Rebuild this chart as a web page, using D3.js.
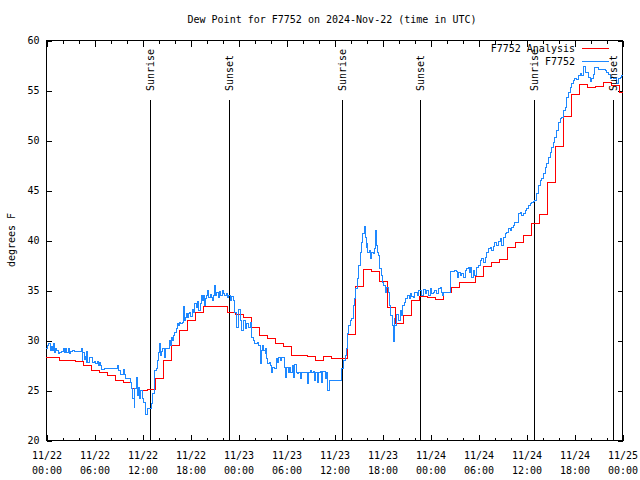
<!DOCTYPE html>
<html><head><meta charset="utf-8">
<script src="https://cdn.jsdelivr.net/npm/d3@7"></script>
<style>
html,body{margin:0;padding:0;background:#fff;}
svg{display:block;}
text{font-family:"DejaVu Sans Mono","Liberation Mono",monospace;font-size:10px;fill:#000;}
</style></head><body>
<svg id="chart" width="640" height="480"></svg>
<script>
const titleText = "Dew Point for F7752 on 2024-Nov-22 (time in UTC)";
const yLabel = "degrees F";
const startDate = "2024-11-22T00:00:00Z";
const endDate = "2024-11-25T00:00:00Z";
const yTicks = [20,25,30,35,40,45,50,55,60];
const xMajorHours = [0,6,12,18,24,30,36,42,48,54,60,66,72];
const xMinorHours = d3.range(0,73,2);
const legendLabels = ["F7752 Analysis","F7752"];
const sunLabels = ["Sunrise","Sunset","Sunrise","Sunset","Sunrise","Sunset"];
const sunHours = [13.05,22.9,37.06,46.8,61.05,70.82];

// hourly analysis values, first one valid from 11/21 23:42 UTC
const anaStartHour = -0.3;
const anaValues = [28.3,28.3,28.0,28.0,27.9,27.5,27.0,26.8,26.5,26.0,
25.8,25.2,25.0,25.1,26.2,28.0,29.5,31.0,32.0,32.8,
33.4,33.4,33.4,32.8,32.6,32.3,31.3,30.5,30.2,29.65,
29.35,28.45,28.45,28.4,28.0,28.35,28.2,28.2,30.6,35.4,
37.05,36.9,35.9,33.3,31.7,32.5,34.0,34.35,34.3,34.1,
34.8,35.3,35.8,35.8,36.4,37.4,37.75,38.1,39.3,39.8,
40.45,41.7,42.6,45.8,49.4,52.4,54.6,55.6,55.3,55.35,
55.8,55.45,54.75];

// station observations: hours since 11/22 00:00 UTC and dew point
const obsHours = [0,0.21,0.33,0.5,0.67,0.79,0.92,1.0,1.21,1.33,1.5,1.67,1.92,2.17,2.33,2.46,2.58,2.75,2.88,3.08,3.29,3.62,
4.46,4.54,4.62,4.75,4.88,5.0,5.08,5.21,5.38,5.79,6.0,6.21,6.42,6.54,6.67,6.83,6.96,7.25,8.92,9.08,9.25,9.67,9.79,9.96,
10.5,10.67,10.83,11.0,11.08,11.25,11.42,11.58,11.71,11.83,12.08,12.21,12.38,12.46,12.67,13.2,13.35,13.5,13.62,13.75,13.92,
14.04,14.17,14.25,14.38,14.58,14.75,14.83,14.96,15.42,15.58,15.67,15.83,15.92,16.08,16.25,16.42,16.58,16.67,16.83,17.0,
17.17,17.25,17.42,17.5,17.67,17.83,17.92,18.08,18.25,18.42,18.58,18.75,18.92,19.08,19.25,19.42,19.5,19.67,19.79,19.92,
20.08,20.21,20.33,20.5,20.67,20.75,20.92,21.08,21.17,21.33,21.5,21.67,21.83,22.0,22.17,22.33,22.5,22.67,22.83,
23.0,23.2,23.42,23.62,23.83,24.04,24.25,24.46,24.67,24.88,25.08,25.29,25.5,25.71,25.92,26.12,26.46,26.62,26.75,26.88,
27.04,27.21,27.38,27.46,27.58,27.71,27.88,28.04,28.21,28.29,28.62,28.79,28.96,29.12,29.29,29.46,29.79,29.96,
30.12,30.29,30.46,30.62,30.79,30.92,31.12,31.29,31.46,31.62,31.79,31.96,32.71,32.79,33.0,33.21,33.42,33.54,33.71,33.88,
34.04,34.25,34.38,34.54,34.88,35.0,35.21,35.38,36.75,36.88,37.2,37.38,37.54,37.67,37.79,38.0,38.21,38.42,38.54,38.71,38.96,
39.12,39.29,39.46,39.62,39.75,39.88,40.0,40.08,40.21,40.38,40.54,40.71,40.88,41.04,41.15,41.29,41.42,41.54,41.71,41.88,
42.04,42.21,42.38,42.58,42.79,42.96,43.12,43.29,43.42,43.54,43.62,43.83,44.04,44.25,44.46,44.62,44.79,44.96,
45.17,45.38,45.54,45.71,45.96,46.12,46.38,46.54,46.75,46.96,47.17,47.38,47.58,47.79,48.0,48.21,48.42,48.62,48.83,
49.04,49.25,49.38,49.54,49.67,50.5,50.62,51.12,51.33,51.46,51.62,51.75,51.96,52.17,52.38,52.58,52.79,52.92,
53.08,53.21,53.42,53.62,53.83,54.04,54.25,54.46,54.67,54.88,55.08,55.29,55.5,55.71,55.92,56.12,56.33,56.54,56.75,56.96,
57.17,57.38,57.58,57.79,58.0,58.21,58.42,58.62,58.83,59.04,59.25,59.46,59.67,59.88,60.08,60.29,60.5,60.71,60.92,
61.12,61.33,61.54,61.75,61.96,62.17,62.38,62.58,62.79,63.0,63.21,63.42,63.62,63.83,64.04,64.25,64.46,64.67,64.88,
65.08,65.29,65.5,65.71,65.92,66.12,66.33,66.54,66.75,66.96,67.17,67.38,67.58,67.79,68.0,68.21,68.42,68.62,68.83,
69.04,69.67,69.88,70.08,70.29,70.5,70.71,70.92,71.12,71.33,71.54,71.75,71.96];
const obsValues = [29.2,29.5,29.7,29.0,29.4,29.0,29.7,28.8,29.2,29.0,28.7,28.8,28.9,29.2,28.8,29.2,28.8,29.2,28.7,28.9,29.0,28.9,
29.2,28.0,28.8,28.1,28.4,27.8,28.9,27.8,28.3,27.8,27.9,27.7,27.9,27.5,27.8,27.5,27.1,27.2,27.5,27.0,26.6,27.1,26.6,26.2,
25.8,25.2,24.2,23.3,25.2,26.3,24.5,25.3,24.2,25.0,24.2,23.8,23.2,22.6,23.2,23.7,24.7,26.5,27.0,27.2,28.0,
28.8,29.7,28.5,28.9,29.2,28.9,28.3,29.2,30.0,29.5,30.3,30.0,30.5,30.8,31.2,31.7,31.5,31.8,31.7,31.8,
33.4,32.0,32.3,32.7,32.3,32.7,32.8,32.4,33.1,32.8,33.7,33.3,33.9,33.0,33.7,34.5,34.0,34.5,33.5,34.2,
34.5,35.0,34.3,34.6,34.3,34.0,34.5,35.5,34.5,34.8,34.3,34.9,34.5,35.0,34.7,34.5,34.7,34.3,34.5,
34.0,34.4,34.0,32.8,31.3,33.1,32.0,31.0,32.0,31.2,31.7,31.3,31.8,30.3,30.0,29.7,29.8,29.5,27.7,29.0,
29.5,29.0,28.7,29.2,28.2,27.7,27.8,27.5,26.8,27.3,27.2,28.2,27.8,28.3,28.0,28.3,27.3,26.3,
27.3,26.8,27.3,26.8,27.5,26.3,27.6,26.8,26.7,26.8,26.2,26.8,25.7,26.8,27.0,26.8,26.9,26.0,26.8,25.8,
26.8,26.9,25.8,26.9,26.2,26.8,25.0,26.0,26.0,27.2,28.0,28.5,29.2,30.7,31.5,32.0,32.2,33.5,34.2,35.2,36.2,
37.5,38.8,39.8,40.7,41.4,40.3,39.3,39.7,38.8,39.0,38.2,38.8,38.7,39.2,41.0,39.5,38.8,38.5,37.2,36.5,
35.8,35.5,34.8,35.3,34.8,33.5,32.5,31.5,29.9,32.2,31.5,32.6,32.0,33.0,32.5,33.5,33.8,34.2,
34.5,34.2,34.7,34.4,34.3,34.8,34.5,35.0,35.0,34.5,35.1,34.7,35.0,34.5,35.2,34.7,34.8,35.0,34.7,
35.2,35.3,34.8,34.5,34.8,35.7,36.9,37.0,36.9,36.3,36.8,36.5,36.7,36.3,37.0,37.2,37.3,36.8,
37.3,36.3,37.0,36.5,37.3,37.5,38.0,38.2,37.8,38.3,38.8,39.2,39.3,39.0,39.4,39.8,39.5,39.9,40.2,39.5,
40.3,40.7,40.8,41.2,41.0,41.3,41.5,41.8,41.8,42.7,42.8,42.5,42.7,43.0,43.2,43.5,43.7,43.8,43.9,
44.0,44.7,45.5,46.0,46.2,46.7,47.3,47.7,48.3,48.8,49.3,49.8,50.3,51.0,51.8,52.2,52.3,53.0,53.3,
54.3,54.8,55.3,55.7,56.0,56.2,56.1,56.5,56.7,56.5,57.4,56.8,56.8,56.3,55.9,56.2,56.6,57.3,57.3,
57.1,57.1,57.0,56.8,56.6,56.2,56.3,56.2,56.2,55.7,56.2,56.3,56.5];

const W = 640, H = 480;
const L = 46, R = 622, T = 40, B = 440;
const t0 = new Date(startDate).getTime();
const hourToDate = h => new Date(t0 + h * 3600e3);

const svg = d3.select("#chart");
const x = d3.scaleUtc().domain([new Date(startDate), new Date(endDate)]).range([L, R]);
const y = d3.scaleLinear().domain([20, 60]).range([B, T]);

// title
svg.append("text").attr("x", 332).attr("y", 23).attr("text-anchor", "middle").text(titleText);

// y label
svg.append("text").attr("transform", `translate(15,${(T+B)/2}) rotate(-90)`)
  .attr("text-anchor", "middle").text(yLabel);

const clip = svg.append("clipPath").attr("id", "plotclip");
clip.append("rect").attr("x", L).attr("y", T).attr("width", R - L + 1).attr("height", B - T + 1);

const g = svg.append("g");

// y axis left (labels) and right (mirror ticks)
const yAxisL = d3.axisLeft(y).tickValues(yTicks).tickSize(-5).tickPadding(7).tickFormat(d3.format("d"));
g.append("g").attr("transform", `translate(${L+0.5},0.5)`).call(yAxisL);
const yAxisR = d3.axisRight(y).tickValues(yTicks).tickSize(-5).tickFormat("");
g.append("g").attr("transform", `translate(${R+0.5},0.5)`).call(yAxisR);

// x axis bottom: major with labels, minor without
const fmtDate = d3.utcFormat("%m/%d"), fmtTime = d3.utcFormat("%H:%M");
const xMajor = xMajorHours.map(hourToDate);
const xMinor = xMinorHours.map(hourToDate);
const gxb = g.append("g").attr("transform", `translate(0.5,${B+0.5})`)
  .call(d3.axisBottom(x).tickValues(xMajor).tickSize(-6).tickFormat(""));
gxb.selectAll(".tick text").each(function(d){
  const t = d3.select(this);
  t.text(null).attr("y", 0).attr("dy", null);
  t.append("tspan").attr("x", 0).attr("y", 18.5).text(fmtDate(d));
  t.append("tspan").attr("x", 0).attr("y", 33).text(fmtTime(d));
});
g.append("g").attr("transform", `translate(0.5,${B+0.5})`)
  .call(d3.axisBottom(x).tickValues(xMinor).tickSize(-3).tickFormat(""));
g.append("g").attr("transform", `translate(0.5,${T+0.5})`)
  .call(d3.axisTop(x).tickValues(xMajor).tickSize(-6).tickFormat(""));
g.append("g").attr("transform", `translate(0.5,${T+0.5})`)
  .call(d3.axisTop(x).tickValues(xMinor).tickSize(-3).tickFormat(""));

g.selectAll(".domain").remove();
g.selectAll(".tick line").attr("stroke", "#000").attr("shape-rendering", "crispEdges");
g.selectAll("g").attr("font-family", null).attr("font-size", null);

// border
svg.append("rect").attr("x", L + 0.5).attr("y", T + 0.5).attr("width", R - L).attr("height", B - T)
  .attr("fill", "none").attr("stroke", "#000").attr("stroke-width", 1).attr("shape-rendering", "crispEdges");

const plot = svg.append("g").attr("clip-path", "url(#plotclip)");

// sunrise/sunset lines
sunHours.forEach((h, i) => {
  const xx = Math.round(x(hourToDate(h))) + 0.5;
  plot.append("line").attr("x1", xx).attr("x2", xx).attr("y1", 100).attr("y2", B)
    .attr("stroke", "#000").attr("stroke-width", 1).attr("shape-rendering", "crispEdges");
  svg.append("text").attr("transform", `translate(${xx + 3.5},91) rotate(-90)`)
    .attr("text-anchor", "start").text(sunLabels[i]);
});

// analysis (step)
const anaData = anaValues.map((v, i) => ({t: hourToDate(anaStartHour + i), v}));
anaData.push({t: hourToDate(anaStartHour + anaValues.length), v: anaValues[anaValues.length - 1]});
const line = d3.line().x(d => x(d.t)).y(d => y(d.v)).curve(d3.curveStepAfter);
plot.append("path").datum(anaData).attr("d", line).attr("fill", "none")
  .attr("stroke", "#ff0000").attr("stroke-width", 1).attr("shape-rendering", "crispEdges");

// observations (step)
const obsData = d3.zip(obsHours, obsValues).map(([h, v]) => ({t: hourToDate(h), v}));
obsData.push({t: hourToDate(72.2), v: obsValues[obsValues.length - 1]});
plot.append("path").datum(obsData).attr("d", line).attr("fill", "none")
  .attr("stroke", "#1e88ff").attr("stroke-width", 1).attr("shape-rendering", "crispEdges");

// legend
const legColors = ["#ff0000", "#1e88ff"];
legendLabels.forEach((lab, i) => {
  const yy = 48.5 + i * 13;
  svg.append("text").attr("x", 575).attr("y", yy).attr("dy", "0.35em").attr("text-anchor", "end").text(lab);
  svg.append("line").attr("x1", 582).attr("x2", 609).attr("y1", yy).attr("y2", yy)
    .attr("stroke", legColors[i]).attr("stroke-width", 1).attr("shape-rendering", "crispEdges");
});
</script>
</body></html>
